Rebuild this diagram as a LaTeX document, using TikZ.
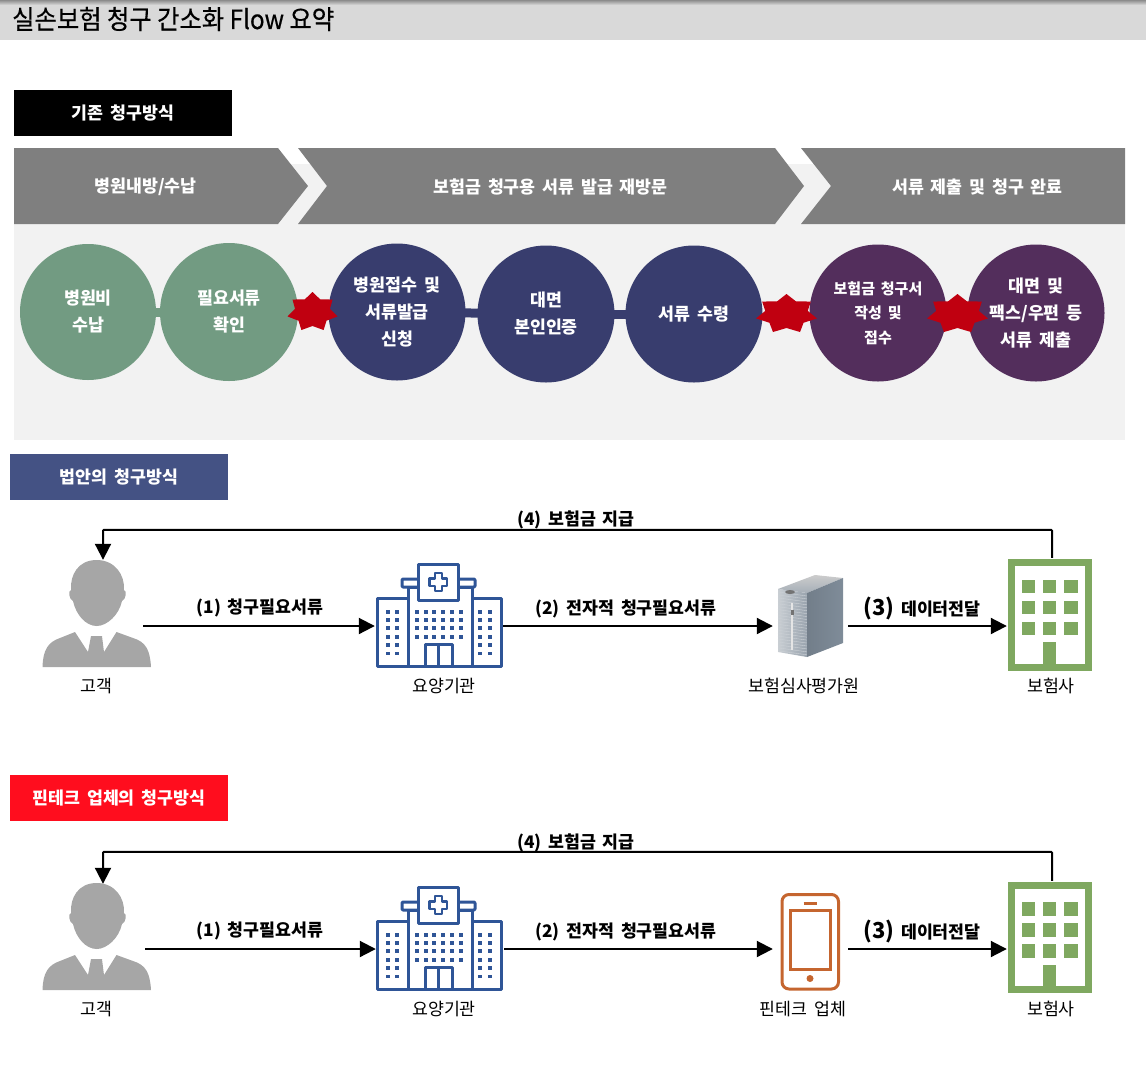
\documentclass[tikz,border=0pt]{standalone}
\usepackage{fontspec}
\setmainfont[WordSpace=1.7]{Noto Sans CJK KR}
\newfontfamily\titlefont[FakeStretch=0.92,FakeBold=0.35]{Noto Sans CJK KR}
\usetikzlibrary{arrows.meta,shapes.geometric,calc}
\definecolor{chevgray}{HTML}{7F7F7F}
\definecolor{panelgray}{HTML}{F2F2F2}
\definecolor{bandgray}{HTML}{D9D9D9}
\definecolor{sage}{HTML}{729B82}
\definecolor{navy}{HTML}{383D6E}
\definecolor{plum}{HTML}{532E5C}
\definecolor{starred}{HTML}{C00010}
\definecolor{lawblue}{HTML}{445284}
\definecolor{finred}{HTML}{FF0D1E}
\definecolor{hospblue}{HTML}{2F5597}
\definecolor{persongray}{HTML}{A6A6A6}
\definecolor{bldgreen}{HTML}{7FA860}
\definecolor{phoneor}{HTML}{C5652F}
\definecolor{srvdark}{HTML}{7F8C99}
\definecolor{srvlight}{HTML}{C9CED3}
\tikzset{
  chev/.style={fill=chevgray,draw=none},
  chevtext/.style={text=white,font=\fontsize{17.3}{20}\selectfont\bfseries,inner sep=0pt,yshift=-1pt},
  tagbox/.style={minimum width=218pt,minimum height=46pt,inner sep=0pt,text=white,font=\fontsize{17.3}{20}\selectfont\bfseries},
  disc/.style={circle,inner sep=0pt,outer sep=-1pt,text=white,align=center,font=\fontsize{17.3}{27}\selectfont\bfseries},
  burst/.style={star,star points=7,star point ratio=1.43,fill=starred,draw=none,inner sep=0pt,minimum size=40pt},
  link/.style={line width=9pt},
  port/.style={inner sep=0pt,draw=none,fill=none},
  flow/.style={draw=black,line width=2pt,-{Triangle[length=16pt,width=16pt]}},
  flowtext/.style={inner sep=0pt,text=black,font=\fontsize{17.3}{20}\selectfont\bfseries,yshift=-1.5pt},
  iconcap/.style={inner sep=0pt,text=black,font=\fontsize{17.3}{20}\selectfont,yshift=-1pt},
  hospline/.style={draw=hospblue,line width=3pt,fill=white,line join=round},
}
\newcommand{\personicon}[1]{%
 \begin{scope}[shift={(0,#1)},fill=persongray]
  \fill (96.7,560) .. controls (78,560) and (70,575) .. (71,590)
     .. controls (68,590) and (69,600) .. (73,601)
     .. controls (76,615) and (86,626) .. (96.7,626)
     .. controls (107,626) and (119,615) .. (122,601)
     .. controls (126,600) and (127,590) .. (124,590)
     .. controls (125,575) and (115,560) .. (96.7,560) -- cycle;
  \fill (42.5,667) .. controls (43,650) and (48,642) .. (60,638)
     -- (75,632) -- (88,652) -- (91,636) -- (102,636) -- (104,652) -- (116.5,632)
     -- (133,638) .. controls (146,642) and (150,650) .. (151,667) -- cycle;
 \end{scope}}
\newcommand{\hospicon}[1]{%
 \begin{scope}[shift={(0,#1)}]
  \draw[hospline] (377,598) rectangle (408,666);
  \draw[hospline] (472,598) rectangle (501,666);
  \draw[hospline,rounded corners=1pt] (402,579) rectangle (475,587);
  \draw[hospline] (408,587) rectangle (472,666);
  \draw[hospline] (418,564) rectangle (458,600);
  \draw[draw=hospblue,line width=2.6pt,fill=white,line join=round]
     (435,573) -- (442,573) -- (442,578.5) -- (447,578.5) -- (447,586) -- (442,586)
     -- (442,591) -- (435,591) -- (435,586) -- (429.5,586) -- (429.5,578.5) -- (435,578.5) -- cycle;
  \draw[hospline] (425,644) rectangle (452,666);
  \draw[draw=hospblue,line width=2.5pt] (438.5,644) -- (438.5,666);
  \foreach \xx in {417,425.7,434.4,443.1,451.8,460.5}
    \foreach \yy in {612,620,628,637}
      \fill[hospblue] (\xx-2,\yy-1.7) rectangle (\xx+2,\yy+1.7);
  \foreach \xx in {388,397,480,489.5}
    \foreach \yy in {612,620,628,637,645,653.5}
      \fill[hospblue] (\xx-2,\yy-1.7) rectangle (\xx+2,\yy+1.7);
 \end{scope}}
\newcommand{\bldicon}[1]{%
 \begin{scope}[shift={(0,#1)}]
  \draw[bldgreen,line width=7pt,fill=white] (1011.2,562.5) rectangle (1088.2,667);
  \foreach \xx in {1021.7,1042.7,1064}
    \foreach \yy in {579.5,600.5,621.5}
      \fill[bldgreen] (\xx,\yy) rectangle (\xx+13.5,\yy+13.5);
  \fill[bldgreen] (1042.7,642) rectangle (1056,665);
 \end{scope}}
\begin{document}
\begin{tikzpicture}[x=1pt,y=-1pt]
\useasboundingbox (0,0) rectangle (1146,1066);
% title band
\fill[bandgray] (0,0) rectangle (1146,40);
\shade[top color=black!45,bottom color=bandgray,draw=none] (0,0) rectangle (1146,5);
\node[anchor=west,inner sep=0pt,text=black,font=\fontsize{26.4}{30}\selectfont\titlefont] (title) at (12,19) {실손보험 청구 간소화 Flow 요약};
% section 1
\node[tagbox,fill=black] (tag1) at (123,113) {\raisebox{-1.5pt}{기존 청구방식}};
\fill[panelgray] (14,164) rectangle (1125,440);
\fill[chev] (14,148) -- (278,148) -- (308,186) -- (278,224) -- (14,224) -- cycle;
\fill[chev] (298,148) -- (775,148) -- (804,186) -- (775,224) -- (298,224) -- (327,186) -- cycle;
\fill[chev] (801,148) -- (1125,148) -- (1125,224) -- (801,224) -- (831,186) -- cycle;
\node[chevtext] (ch1) at (145.5,186) {병원내방/수납};
\node[chevtext] (ch2) at (550.5,186) {보험금 청구용 서류 발급 재방문};
\node[chevtext] (ch3) at (977.5,186) {서류 제출 및 청구 완료};
\node[disc,fill=sage,minimum size=136pt] (c1) at (88,312) {병원비\\수납};
\node[disc,fill=sage,minimum size=138pt] (c2) at (229,312) {필요서류\\확인};
\node[disc,fill=navy,minimum size=137pt] (c3) at (397,312) {병원접수 및\\서류발급\\신청};
\node[disc,fill=navy,minimum size=137pt] (c4) at (546,314) {대면\\본인인증};
\node[disc,fill=navy,minimum size=137pt] (c5) at (694,314) {서류 수령};
\node[disc,fill=plum,minimum size=137pt,font=\fontsize{15}{24.5}\selectfont\bfseries] (c6) at (878,313) {보험금 청구서\\작성 및\\접수};
\node[disc,fill=plum,minimum size=137pt] (c7) at (1036,313) {대면 및\\팩스/우편 등\\서류 제출};
\draw[link,sage] (c1) -- (c2);
\draw[link,navy] (c3) -- (c4);
\draw[link,navy] (c4) -- (c5);
\draw[link,plum] (c6) -- (c7);
\node[burst,xscale=1.28] (s1) at (312.5,312) {};
\node[burst,xscale=1.56] (s2) at (786.5,314) {};
\node[burst,xscale=1.56] (s3) at (957.5,314) {};
% section 2
\node[tagbox,fill=lawblue] (tag2) at (119,477) {\raisebox{-1.5pt}{법안의 청구방식}};
\personicon{0}
\hospicon{0}
% server
\shade[left color=srvlight,right color=srvdark!80] (778,589) -- (807,593) -- (807,657) -- (778,652) -- cycle;
\foreach \yy in {0,3,...,60}
  \draw[white!60!srvdark,line width=.4pt] (778,592+\yy*0.98) -- (807,596+\yy*0.98);
\shade[top color=black!20,bottom color=srvdark!70] (778,589) -- (815,575) -- (843,578) -- (807,593) -- cycle;
\shade[left color=srvdark!90!black,right color=srvdark] (807,593) -- (843,578) -- (843,643) -- (807,657) -- cycle;
\fill[white!80!gray] (791,603) rectangle (793,650);
\fill[black!55] (790.5,610) rectangle (793.5,615);
\fill[black!55] (790,592) ellipse [x radius=5pt,y radius=2pt];
\bldicon{0}
\node[port,minimum width=80pt,minimum height=132pt] (cust1) at (103,626) {};
\node[port,minimum width=128pt,minimum height=10pt] (hosp1) at (439,626) {};
\node[port,minimum width=75pt,minimum height=10pt] (srv1) at (810.5,626) {};
\node[port,minimum width=90pt,minimum height=136pt] (ins1) at (1052,626) {};
\draw[flow] (cust1.east) -- (hosp1.west);
\draw[flow] (hosp1.east) -- (srv1.west);
\draw[flow] (srv1.east) -- (ins1.west);
\draw[flow,rounded corners=1pt] (ins1.north) -- ++(0,-28) -| (cust1.north);
\node[flowtext] (l11) at (260,606) {(1) 청구필요서류};
\node[flowtext] (l12) at (626,607) {(2) 전자적 청구필요서류};
\node[flowtext] (l13) at (922,607) {{\fontsize{22}{22}\selectfont (3)} 데이터전달};
\node[flowtext] (l14) at (576,518) {(4) 보험금 지급};
\node[iconcap] (n11) at (96,685) {고객};
\node[iconcap] (n12) at (444,685) {요양기관};
\node[iconcap] (n13) at (804,685) {보험심사평가원};
\node[iconcap] (n14) at (1051,685) {보험사};
% section 3
\node[tagbox,fill=finred] (tag3) at (119,798) {\raisebox{-1.5pt}{핀테크 업체의 청구방식}};
\personicon{323}
\hospicon{323}
\draw[phoneor,line width=3pt,rounded corners=7pt] (782,894.5) rectangle (838.5,989);
\draw[phoneor,line width=3pt] (790,910.5) rectangle (830.5,969.5);
\draw[phoneor,line width=3pt] (803.5,903) -- (816.5,903);
\fill[phoneor] (810,978.5) circle [radius=3.5pt];
\bldicon{322.5}
\node[port,minimum width=84pt,minimum height=130pt] (cust2) at (103,949) {};
\node[port,minimum width=128pt,minimum height=10pt] (hosp2) at (440,949) {};
\node[port,minimum width=75pt,minimum height=10pt] (fin2) at (810.5,949) {};
\node[port,minimum width=90pt,minimum height=136pt] (ins2) at (1052,949) {};
\draw[flow] (cust2.east) -- (hosp2.west);
\draw[flow] (hosp2.east) -- (fin2.west);
\draw[flow] (fin2.east) -- (ins2.west);
\draw[flow,rounded corners=1pt] (ins2.north) -- ++(0,-29) -| (cust2.north);
\node[flowtext] (l21) at (260,929) {(1) 청구필요서류};
\node[flowtext] (l22) at (626,930) {(2) 전자적 청구필요서류};
\node[flowtext] (l23) at (922,930) {{\fontsize{22}{22}\selectfont (3)} 데이터전달};
\node[flowtext] (l24) at (576,841) {(4) 보험금 지급};
\node[iconcap] (n21) at (96,1008) {고객};
\node[iconcap] (n22) at (444,1008) {요양기관};
\node[iconcap] (n23) at (803,1008) {핀테크 업체};
\node[iconcap] (n24) at (1051,1008) {보험사};
\end{tikzpicture}
\end{document}
